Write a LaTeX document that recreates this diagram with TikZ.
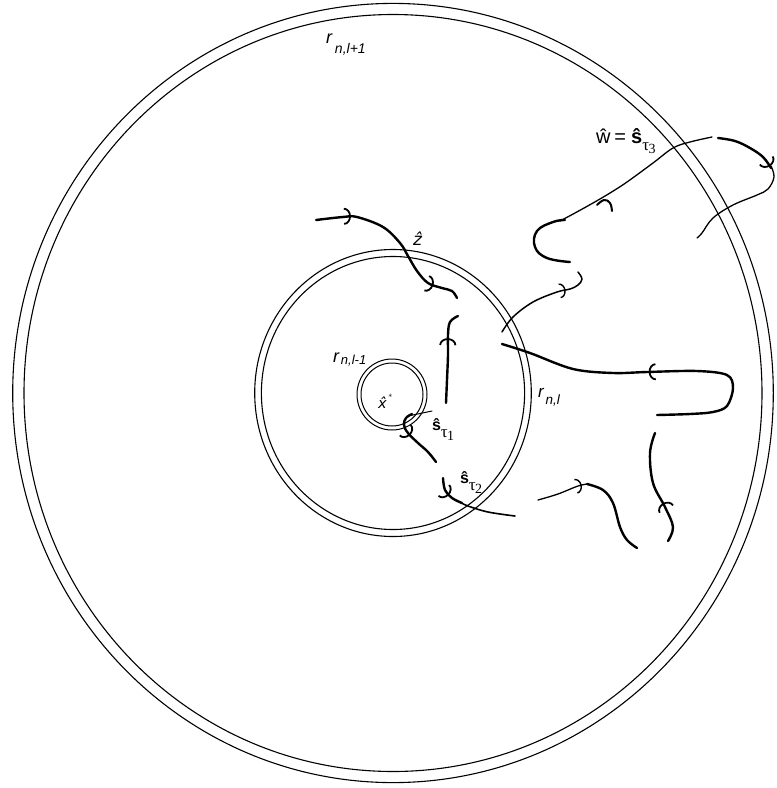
\documentclass[tikz,border=0pt]{standalone}
\usepackage{fontspec}
\setmainfont{Liberation Sans}
\newfontfamily\serifgreek{Liberation Serif}
\newfontfamily\dejavu{DejaVu Sans}
\usetikzlibrary{arrows.meta,decorations.markings}

\newcommand{\tausub}[1]{\raisebox{-7pt}{\serifgreek\fontsize{17}{17}\selectfont τ}\kern-0.5pt\raisebox{-10pt}{\serifgreek\fontsize{14}{14}\selectfont #1}}

\begin{document}
\begin{tikzpicture}[x=1pt,y=-1pt,
  ring/.style={line width=1.1pt},
  trailthick/.style={line width=2.4pt, line cap=round, line join=round},
  trailthin/.style={line width=1.3pt, line cap=round, line join=round},
  barb/.style={postaction={decorate, decoration={markings, mark=at position #1 with {\arrow{Arc Barb[length=7pt,width=17pt,line width=1.8pt]}}}}},
  smallbarb/.style={postaction={decorate, decoration={markings, mark=at position #1 with {\arrow{Arc Barb[length=6pt,width=15pt,line width=1.4pt]}}}}},
  lab/.style={inner sep=0pt, outer sep=0pt, anchor=base west}]

\useasboundingbox (0,0) rectangle (777,788);
\fill[white] (0,0) rectangle (777,788);

% rings
\draw[ring] (393,393) ellipse [x radius=380.3pt, y radius=389.6pt];
\draw[ring] (393,393) ellipse [x radius=369pt, y radius=378.5pt];
\draw[ring] (393,393) ellipse [x radius=138.3pt, y radius=143.5pt];
\draw[ring] (393,393) ellipse [x radius=131.6pt, y radius=136.5pt];
\draw[ring, line width=1pt] (392,394.5) ellipse [x radius=35pt, y radius=35.5pt];
\draw[ring, line width=1pt] (392,394.5) ellipse [x radius=31pt, y radius=31.5pt];

% path through z
\draw[trailthick, barb=0.2, barb=0.84] plot[smooth, tension=0.6] coordinates {(316,220) (343,217) (357,217) (383,227) (400,243) (408,256) (417,271) (428,283) (442,288) (452,291) (457,298)};

% vertical f-shaped path
\draw[trailthick, barb=0.71] plot[smooth, tension=0.6] coordinates {(446,403) (447,380) (448,355) (448,335) (450,322) (458,316)};

% s_tau1 path
\draw[trailthin, line width=1pt] (408,416) -- (432,411);
\draw[trailthick, barb=0.42] plot[smooth, tension=0.7] coordinates {(412,414) (406,418) (404,425) (408,433) (418,443) (428,452) (436,462)};

% s_tau2 path
\draw[trailthick, barb=0.55] plot[smooth, tension=0.6] coordinates {(443,478) (445,490) (452,498) (462,503)};
\draw[trailthin, line width=1.6pt] plot[smooth, tension=0.6] coordinates {(460,502) (468,506) (488,512) (515,516)};

% lower right wavy path
\draw[trailthin, smallbarb=0.88] plot[smooth, tension=0.6] coordinates {(538,500) (558,494) (578,486) (588,484)};
\draw[trailthick] plot[smooth, tension=0.6] coordinates {(587,484) (603,490) (613,503) (620,527) (627,540) (637,548)};

% right vertical path
\draw[trailthick, barb=0.36] plot[smooth, tension=0.6] coordinates {(668,541) (673,527) (665,507) (653,483) (650,453) (655,433)};

% long loop path
\draw[trailthick, barb=0.55] plot[smooth, tension=0.55] coordinates {(657,415) (690,414) (713,412) (727,406) (733,388) (727,375) (697,371) (647,372) (613,373) (573,369) (530,353) (502,344)};

% thin path with hook
\draw[trailthin, line width=1.5pt, smallbarb=0.73] plot[smooth, tension=0.6] coordinates {(502,332) (513,317) (533,302) (557,292) (570,289) (578,285) (582,279) (578,272)};

% C shape and thin line to w
\draw[trailthick] plot[smooth, tension=0.7] coordinates {(570,262) (547,258) (535,247) (537,231) (553,222) (565,220)};
\draw[trailthin] plot[smooth, tension=0.6] coordinates {(560,221) (575,213) (593,203) (610,193) (627,182) (653,163) (673,148) (690,142) (712,137)};
\draw[trailthick, line width=2pt] plot[smooth, tension=0.7] coordinates {(597,205) (604,200) (610,203) (612,211)};

% path crossing the outer ring
\draw[trailthick, barb=0.97] plot[smooth, tension=0.6] coordinates {(718,138) (735,141) (750,148) (763,157) (771,168)};
\draw[trailthin] plot[smooth, tension=0.6] coordinates {(771,166) (774,177) (768,189) (757,195) (733,205) (713,218) (702,233) (697,238)};

% labels
\node[lab] (rOuter) at (326,43) {\fontsize{18}{18}\selectfont\itshape r\kern3pt\raisebox{-10pt}{\fontsize{14}{14}\selectfont n,l+1}};
\node[lab] (rMid) at (538,397) {\fontsize{17}{17}\selectfont\itshape r\kern2pt\raisebox{-7pt}{\fontsize{13.5}{13.5}\selectfont n,l}};
\node[lab] (rIn) at (333,362) {\fontsize{18}{18}\selectfont\itshape r\kern2pt\raisebox{-2pt}{\fontsize{13}{13}\selectfont n,l-1}};
\node[lab] (zhat) at (413,245) {\dejavu\fontsize{17}{17}\selectfont\itshape ẑ};
\node[lab] (xstar) at (378,408) {\dejavu\fontsize{14.5}{14.5}\selectfont\itshape x̂\kern2pt\raisebox{9pt}{\fontsize{7}{7}\selectfont *}};
\node[lab] (s1) at (432,430) {\fontsize{16}{16}\selectfont\bfseries ŝ\mdseries\tausub{1}};
\node[lab] (s2) at (460,483) {\fontsize{16}{16}\selectfont\bfseries ŝ\mdseries\tausub{2}};
\node[lab] (w) at (596,143) {\fontsize{20}{20}\selectfont ŵ\kern4pt=\kern5pt\bfseries ŝ\mdseries\tausub{3}};
\end{tikzpicture}
\end{document}
